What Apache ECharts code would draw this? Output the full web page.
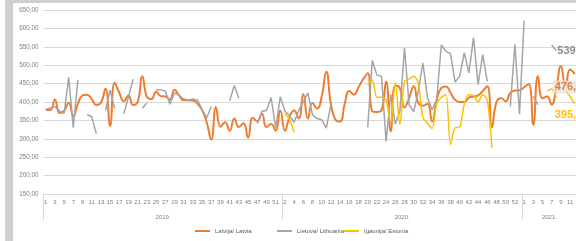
<!DOCTYPE html>
<html>
<head>
<meta charset="utf-8">
<script src="https://cdn.jsdelivr.net/npm/echarts@6/dist/echarts.min.js"></script>
<style>
  html, body { margin: 0; padding: 0; background: #fff; overflow: hidden; }
  #wrap { position: relative; width: 576px; height: 241px; overflow: hidden; }
  #chart { position: absolute; left: 0; top: 0; width: 600px; height: 241px; }
  .frame { position: absolute; background: #cfcfcf; }
</style>
</head>
<body>
<div id="wrap">
  <div id="chart"></div>
  <div class="frame" style="left:5px;top:0;width:8px;height:241px;"></div>
  <div class="frame" style="left:5px;top:0;width:571px;height:3px;"></div>
</div>
<script>
// week groups on the x axis
const years = ['2019.', '2020.', '2021.'];
const firstWeek = [1, 2, 1];
const lastWeek = [52, 53, 12];

const yTicks = { min: 150, max: 650, step: 50 };

const seriesNames = ['Latvija/ Latvia', 'Lietuva/ Lithuania', 'Igaunija/ Estonia'];

const blank = (n) => Array(n).fill(null);

const latvia = [
  378, 378, 407, 370, 376, 398, 362, 395, 418, 420,
  408, 392, 398, 436, 335, 452, 425, 402, 418, 392,
  400, 470, 414, 408, 428, 416, 415, 406, 433, 418,
  405, 405, 404, 395, 378, 345, 298, 386, 333, 345,
  322, 355, 332, 342, 303, 357, 348, 368, 332, 340,
  322, 377, 322, 359, 377, 355, 422, 355, 397, 382,
  415, 482, 395, 352, 347, 395, 430, 420, 440, 462,
  478, 375, 373, 378, 456, 320, 445, 438, 385, 410,
  443, 398, 390, 395, 347, 405, 438, 442, 425, 406,
  400, 400, 412, 415, 418, 430, 443, 332, 400, 410,
  402, 425, 431, 432, 440, 449, 338, 470, 410, 415,
  393, 438, 497, 445, 488, 476
];

const lithuania = [
  380, 384, 387, 376, 369, 467, 330, 460, null, 366,
  360, 314, null, 377, 432, 382, null, 368, 415, 462,
  null, 383, 397, null, 433, 433, 430, 394, 425, 418,
  408, 405, 408, 405, 380, 357, 388, null, null, null,
  403, 445, 410, null, null, null, 341, 375, 377, 412,
  330, 414, 375, 363, 345, 377, 400, 425, 365, 355,
  352, 329, 393, null, null, null, null, null, null, null,
  331, 513, 473, 470, 293, 420, 340, 375, 547, 393,
  373, 429, 506, 411, 379, 406, 555, 538, 531, 454,
  470, 534, 479, 575, 447, 529, 456, null, null, null,
  null, 388, 557, 367, 621, null, 415, 393, null, null,
  555, 539
];

const estonia = [
  ...blank(52),
  368, 352, 318,
  ...blank(15),
  446, 460, 413, 413, 405, 345, 452, 340, 456, 462,
  470, 450, 358, 342, 328, 395, 412, 420, 285, 330,
  332, 395, 420, 418, 400, 420, 405, 275,
  ...blank(11),
  430, 435, 412, null, 430, 415, 395
];

const colors = ['#ED7D31', '#A5A5A5', '#FFC000'];
const textColor = '#7F7F7F';
const font = 'Liberation Sans, Arial, sans-serif';

// build category labels, year labels and group boundaries
const weeks = [];
const yearLabels = [];
const boundaries = [];
years.forEach((y, k) => {
  boundaries.push(weeks.length);
  const count = lastWeek[k] - firstWeek[k] + 1;
  const mid = weeks.length + Math.floor(count / 2);
  for (let w = firstWeek[k]; w <= lastWeek[k]; w++) {
    yearLabels.push(weeks.length === mid ? y : '');
    weeks.push(String(w));
  }
});

const fmt = (v) => v.toFixed(2).replace('.', ',');

const chart = echarts.init(document.getElementById('chart'));

const endLabel = (color, offset, extra) => Object.assign({
  show: true,
  formatter: (p) => fmt(p.value),
  distance: 0,
  offset,
  fontSize: 11,
  fontWeight: 'bold',
  fontFamily: font,
  color,
}, extra || {});

const legendItem = (name, left) => ({
  data: [name],
  left,
  top: 228,
  icon: 'rect',
  itemWidth: 15,
  itemHeight: 2,
  itemGap: 0,
  padding: 0,
  textStyle: { fontSize: 6, color: '#595959', fontFamily: font },
});

chart.setOption({
  animation: false,
  color: colors,
  grid: { left: 43.4, right: 23, top: 10, bottom: 47, outerBoundsMode: 'none' },
  legend: [
    legendItem(seriesNames[0], 195),
    legendItem(seriesNames[1], 277),
    legendItem(seriesNames[2], 344),
  ],
  xAxis: [{
    type: 'category',
    data: weeks,
    boundaryGap: true,
    axisLine: { lineStyle: { color: '#D9D9D9', width: 1 } },
    axisTick: {
      show: true,
      length: 26,
      interval: (index) => boundaries.indexOf(index) >= 0,
      lineStyle: { color: '#D9D9D9' },
    },
    axisLabel: { interval: 1, fontSize: 6, margin: 5, color: textColor, fontFamily: font },
    splitLine: { show: false },
  }, {
    type: 'category',
    data: yearLabels,
    position: 'bottom',
    boundaryGap: true,
    axisLine: { show: false },
    axisTick: { show: false },
    axisLabel: {
      interval: 0,
      margin: 20,
      formatter: (v) => (v ? '{y|' + v + '}' : ''),
      rich: { y: { fontSize: 6, color: textColor, fontFamily: font, padding: [0, 4.6, 0, 0] } },
    },
  }],
  yAxis: {
    type: 'value',
    min: yTicks.min,
    max: yTicks.max,
    interval: yTicks.step,
    axisLine: { show: false },
    axisTick: { show: false },
    axisLabel: { formatter: fmt, fontSize: 6.3, color: textColor, margin: 5, fontFamily: font },
    splitLine: { lineStyle: { color: '#D9D9D9', width: 1 } },
  },
  series: [{
    name: seriesNames[0],
    type: 'line',
    data: latvia,
    smooth: 0.5,
    symbol: 'none',
    lineStyle: { width: 2, color: colors[0] },
    endLabel: endLabel(colors[0], [-22, 13], { backgroundColor: 'rgba(225,225,225,0.75)', padding: [1, 2] }),
  }, {
    name: seriesNames[1],
    type: 'line',
    data: lithuania,
    symbol: 'none',
    lineStyle: { width: 1.5, color: colors[1] },
    endLabel: endLabel('#8C8C8C', [1, 0]),
  }, {
    name: seriesNames[2],
    type: 'line',
    data: estonia,
    smooth: 0.3,
    symbol: 'none',
    lineStyle: { width: 1.5, color: colors[2] },
    endLabel: endLabel(colors[2], [-20, 11]),
  }],
});
</script>
</body>
</html>
